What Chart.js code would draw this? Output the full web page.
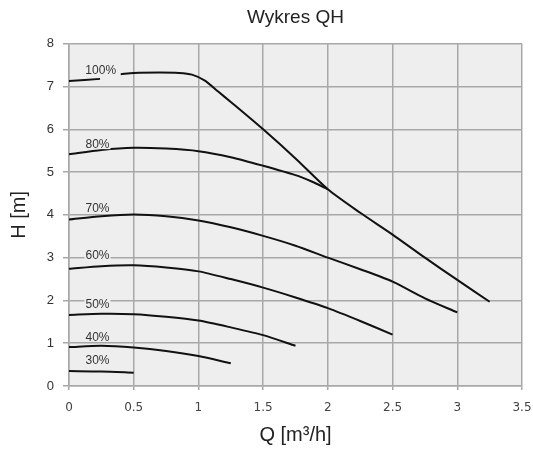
<!DOCTYPE html>
<html>
<head>
<meta charset="utf-8">
<script src="https://cdn.jsdelivr.net/npm/chart.js@4/dist/chart.umd.min.js"></script>
<style>
  html, body { margin: 0; padding: 0; background: #fff; }
  #wrap { width: 533px; height: 449px; }
</style>
</head>
<body>
<div id="wrap"><canvas id="qhChart"></canvas></div>
<script>
// flow Q [m3/h] and head H [m], one pair of arrays per speed
const q100 = [0, 0.24, null, 0.4, 0.5, 0.7, 0.85, 0.95, 1.05, 1.15, 1.25, 1.5, 1.75, 2.0, 2.25, 2.5, 2.75, 3.0, 3.25];
const h100 = [7.13, 7.18, null, 7.29, 7.32, 7.33, 7.32, 7.28, 7.14, 6.89, 6.64, 6.0, 5.32, 4.6, 4.05, 3.54, 3.0, 2.48, 1.97];
const q80 = [0, 0.25, 0.5, 0.75, 1.0, 1.25, 1.5, 1.75, 1.875, 2.0];
const h80 = [5.42, 5.52, 5.57, 5.55, 5.49, 5.35, 5.15, 4.93, 4.78, 4.6];
const q70 = [0, 0.25, 0.5, 0.75, 1.0, 1.25, 1.5, 1.75, 2.0, 2.25, 2.5, 2.75, 3.0];
const h70 = [3.89, 3.97, 4.01, 3.97, 3.87, 3.71, 3.51, 3.28, 3.0, 2.73, 2.44, 2.05, 1.72];
const q60 = [0, 0.25, 0.5, 0.75, 1.0, 1.25, 1.5, 1.75, 2.0, 2.25, 2.5];
const h60 = [2.74, 2.8, 2.82, 2.77, 2.68, 2.5, 2.3, 2.07, 1.82, 1.52, 1.2];
const q50 = [0, 0.25, 0.5, 0.75, 1.0, 1.25, 1.5, 1.75];
const h50 = [1.66, 1.69, 1.68, 1.62, 1.53, 1.37, 1.19, 0.94];
const q40 = [0, 0.25, 0.5, 0.75, 1.0, 1.25];
const h40 = [0.91, 0.94, 0.9, 0.82, 0.7, 0.53];
const q30 = [0, 0.25, 0.5];
const h30 = [0.35, 0.34, 0.31];

// curve labels and where they sit (Q, H)
const curveNames = ['100%', '80%', '70%', '60%', '50%', '40%', '30%'];
const labelQ = [0.245, 0.22, 0.22, 0.22, 0.22, 0.22, 0.22];
const labelH = [7.36, 5.63, 4.15, 3.04, 1.9, 1.14, 0.59];

const xTicks = [0, 0.5, 1, 1.5, 2, 2.5, 3, 3.5];
const yTicks = [0, 1, 2, 3, 4, 5, 6, 7, 8];

const seriesQ = [q100, q80, q70, q60, q50, q40, q30];
const seriesH = [h100, h80, h70, h60, h50, h40, h30];

function toPoints(qs, hs) {
    return qs.map((q, i) => q === null ? { x: null, y: null } : { x: q, y: hs[i] });
}

const datasets = curveNames.map((name, i) => ({
    label: name,
    data: toPoints(seriesQ[i], seriesH[i]),
    borderColor: '#111111',
    borderWidth: 2,
    pointRadius: 0,
    fill: false,
    tension: 0.25,
    spanGaps: false
}));

// light grey plot background
const plotBackground = {
    id: 'plotBackground',
    beforeDraw(chart) {
        const { ctx, chartArea } = chart;
        ctx.save();
        ctx.fillStyle = '#eeeeee';
        ctx.fillRect(chartArea.left, chartArea.top, chartArea.right - chartArea.left, chartArea.bottom - chartArea.top);
        ctx.restore();
    }
};

// "100%", "80%" ... written next to each curve
const curveLabels = {
    id: 'curveLabels',
    afterDatasetsDraw(chart) {
        const { ctx, scales } = chart;
        ctx.save();
        ctx.font = '12px "Liberation Sans", Arial, sans-serif';
        ctx.textAlign = 'center';
        ctx.textBaseline = 'middle';
        curveNames.forEach((name, i) => {
            const x = scales.x.getPixelForValue(labelQ[i]);
            const y = scales.y.getPixelForValue(labelH[i]);
            const w = ctx.measureText(name).width;
            ctx.fillStyle = '#eeeeee';
            ctx.fillRect(x - w / 2 - 1, y - 5, w + 2, 9);
            ctx.fillStyle = '#333333';
            ctx.fillText(name, x, y);
        });
        ctx.restore();
    }
};

new Chart(document.getElementById('qhChart'), {
    type: 'line',
    data: { datasets: datasets },
    plugins: [plotBackground, curveLabels],
    options: {
        responsive: true,
        maintainAspectRatio: false,
        animation: false,
        layout: { padding: { top: 0, right: 11, bottom: 0, left: 0 } },
        plugins: {
            legend: { display: false },
            tooltip: { enabled: false },
            title: {
                display: true,
                text: 'Wykres QH',
                fullSize: false,
                color: '#222222',
                font: { family: '"Liberation Sans", Arial, sans-serif', size: 19, weight: 'normal' },
                padding: { top: 6, bottom: 15 }
            }
        },
        scales: {
            x: {
                type: 'linear',
                min: 0,
                max: 3.5,
                afterBuildTicks(scale) { scale.ticks = xTicks.map(v => ({ value: v })); },
                afterFit(scale) {
                    scale.height = 63;
                    scale.paddingRight = 0;
                    scale.paddingLeft = 0;
                },
                grid: { color: '#a8a8a8', tickLength: 4, lineWidth: 1.5 },
                border: { color: '#a8a8a8', width: 1.5 },
                ticks: {
                    color: '#444444',
                    padding: 11,
                    maxRotation: 0,
                    font: { family: '"DejaVu Sans", sans-serif', size: 12 },
                    callback: v => String(v)
                },
                title: {
                    display: true,
                    text: 'Q [m³/h]',
                    color: '#222222',
                    font: { family: '"Liberation Sans", Arial, sans-serif', size: 20 },
                    padding: { top: 4, bottom: 2 }
                }
            },
            y: {
                type: 'linear',
                min: 0,
                max: 8,
                afterBuildTicks(scale) { scale.ticks = yTicks.map(v => ({ value: v })); },
                afterFit(scale) { scale.width = 69; },
                grid: { color: '#a8a8a8', tickLength: 6, lineWidth: 1.5 },
                border: { color: '#a8a8a8', width: 1.5 },
                ticks: {
                    color: '#333333',
                    padding: 9,
                    font: { family: '"Liberation Sans", Arial, sans-serif', size: 13 },
                    callback: v => String(v)
                },
                title: {
                    display: true,
                    text: 'H [m]',
                    color: '#222222',
                    font: { family: '"Liberation Sans", Arial, sans-serif', size: 20 },
                    padding: { top: 7, bottom: 4 }
                }
            }
        }
    }
});
</script>
</body>
</html>
